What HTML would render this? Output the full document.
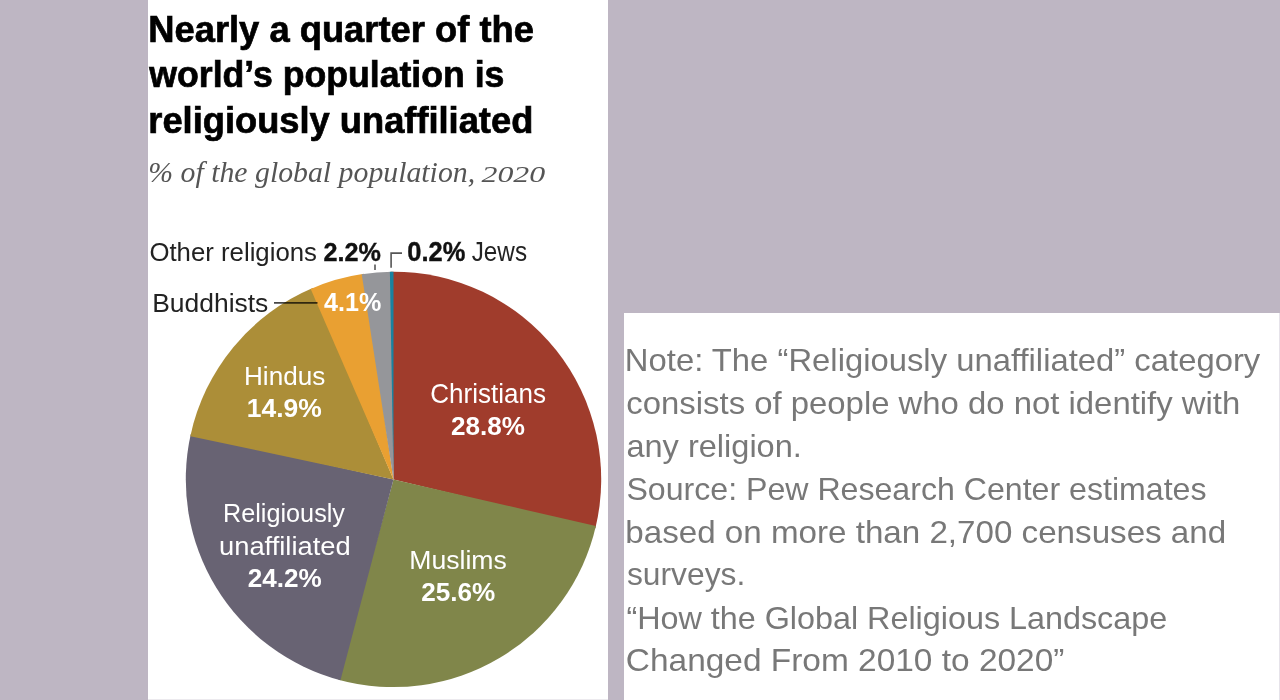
<!DOCTYPE html>
<html><head><meta charset="utf-8"><style>
html,body{margin:0;padding:0;background:#BEB6C3;width:1280px;height:700px;overflow:hidden}
svg{display:block;filter:blur(0.35px)}
text{white-space:pre}
</style></head><body>
<svg width="1280" height="700" viewBox="0 0 1280 700">
<rect x="0" y="0" width="1280" height="700" fill="#BEB6C3"/>
<rect x="148" y="0" width="460" height="700" fill="#FFFFFF"/>
<rect x="624" y="313" width="656" height="387" fill="#FFFFFF"/>
<rect x="1279" y="313" width="1" height="387" fill="#E6E3EA"/>
<rect x="148" y="699" width="460" height="1" fill="#ECEAEE"/>
<path d="M393.5,479.4 L391.33,271.71 A207.7,207.7 0 0 1 595.38,528.24 Z" fill="#A03C2C"/>
<path d="M393.5,479.4 L595.88,526.12 A207.7,207.7 0 0 1 338.34,679.64 Z" fill="#80864A"/>
<path d="M393.5,479.4 L340.44,680.21 A207.7,207.7 0 0 1 190.80,434.09 Z" fill="#686373"/>
<path d="M393.5,479.4 L190.34,436.22 A207.7,207.7 0 0 1 312.68,288.07 Z" fill="#AC8E38"/>
<path d="M393.5,479.4 L310.68,288.93 A207.7,207.7 0 0 1 363.88,273.82 Z" fill="#E9A032"/>
<path d="M393.5,479.4 L361.72,274.14 A207.7,207.7 0 0 1 392.05,271.71 Z" fill="#95969A"/>
<path d="M393.5,479.4 L389.88,271.73 A207.7,207.7 0 0 1 393.50,271.70 Z" fill="#1982A0"/>
<line x1="274" y1="302.8" x2="317.5" y2="302.8" stroke="#000" stroke-opacity="0.72" stroke-width="1.7"/>
<line x1="375" y1="264.5" x2="375" y2="270" stroke="#555" stroke-width="1.6"/>
<polyline points="391.1,267.7 391.1,253.1 402,253.1" fill="none" stroke="#555" stroke-width="1.6"/>
<text transform="translate(148.23,41.60) scale(0.9869,1)" font-family="Liberation Sans" font-size="36.84" font-weight="bold" font-style="normal" fill="#000000" stroke="#000000" stroke-width="0.7">Nearly a quarter of the</text>
<text transform="translate(149.26,86.60) scale(0.9742,1)" font-family="Liberation Sans" font-size="36.60" font-weight="bold" font-style="normal" fill="#000000" stroke="#000000" stroke-width="0.7">world’s population is</text>
<text transform="translate(148.33,132.50) scale(0.9978,1)" font-family="Liberation Sans" font-size="36.36" font-weight="bold" font-style="normal" fill="#000000" stroke="#000000" stroke-width="0.7">religiously unaffiliated</text>
<text transform="translate(148.30,182.00) scale(1.0322,1)" font-family="Liberation Serif" font-size="28.87" font-weight="normal" font-style="italic" fill="#555555">% of the global population,</text>
<text transform="translate(481.50,182.10) scale(1.3806,1)" font-family="Liberation Serif" font-size="23.07" font-weight="normal" font-style="italic" fill="#555555">2020</text>
<text transform="translate(149.39,260.60) scale(1.0125,1)" font-family="Liberation Sans" font-size="25.46" font-weight="normal" font-style="normal" fill="#222222">Other religions</text>
<text transform="translate(471.72,260.70) scale(0.9036,1)" font-family="Liberation Sans" font-size="26.88" font-weight="normal" font-style="normal" fill="#222222">Jews</text>
<text transform="translate(152.23,311.70) scale(0.9993,1)" font-family="Liberation Sans" font-size="26.45" font-weight="normal" font-style="normal" fill="#222222">Buddhists</text>
<text transform="translate(323.61,260.60) scale(0.9459,1)" font-family="Liberation Sans" font-size="26.60" font-weight="bold" font-style="normal" fill="#111111" stroke="#111111" stroke-width="0.4">2.2%</text>
<text transform="translate(407.30,260.70) scale(0.9476,1)" font-family="Liberation Sans" font-size="26.88" font-weight="bold" font-style="normal" fill="#111111" stroke="#111111" stroke-width="0.4">0.2%</text>
<text transform="translate(324.00,311.40) scale(0.9599,1)" font-family="Liberation Sans" font-size="26.17" font-weight="bold" font-style="normal" fill="#FFFFFF">4.1%</text>
<text transform="translate(243.96,385.00) scale(1.0098,1)" font-family="Liberation Sans" font-size="25.88" font-weight="normal" font-style="normal" fill="#FFFFFF">Hindus</text>
<text transform="translate(246.85,417.00) scale(1.0057,1)" font-family="Liberation Sans" font-size="26.31" font-weight="bold" font-style="normal" fill="#FFFFFF">14.9%</text>
<text transform="translate(430.28,402.80) scale(0.9592,1)" font-family="Liberation Sans" font-size="27.16" font-weight="normal" font-style="normal" fill="#FFFFFF">Christians</text>
<text transform="translate(450.88,434.60) scale(0.9864,1)" font-family="Liberation Sans" font-size="26.45" font-weight="bold" font-style="normal" fill="#FFFFFF">28.8%</text>
<text transform="translate(223.03,522.40) scale(0.9745,1)" font-family="Liberation Sans" font-size="25.88" font-weight="normal" font-style="normal" fill="#FFFFFF">Religiously</text>
<text transform="translate(218.99,554.70) scale(1.0570,1)" font-family="Liberation Sans" font-size="25.88" font-weight="normal" font-style="normal" fill="#FFFFFF">unaffiliated</text>
<text transform="translate(247.78,587.10) scale(0.9917,1)" font-family="Liberation Sans" font-size="26.31" font-weight="bold" font-style="normal" fill="#FFFFFF">24.2%</text>
<text transform="translate(409.22,569.10) scale(1.0075,1)" font-family="Liberation Sans" font-size="26.45" font-weight="normal" font-style="normal" fill="#FFFFFF">Muslims</text>
<text transform="translate(421.18,600.60) scale(0.9985,1)" font-family="Liberation Sans" font-size="26.17" font-weight="bold" font-style="normal" fill="#FFFFFF">25.6%</text>
<text transform="translate(624.84,371.20) scale(1.0350,1)" font-family="Liberation Sans" font-size="31.72" font-weight="normal" font-style="normal" fill="#787878">Note: The “Religiously unaffiliated” category</text>
<text transform="translate(626.37,414.00) scale(1.0363,1)" font-family="Liberation Sans" font-size="31.72" font-weight="normal" font-style="normal" fill="#787878">consists of people who do not identify with</text>
<text transform="translate(626.38,457.00) scale(1.0266,1)" font-family="Liberation Sans" font-size="31.72" font-weight="normal" font-style="normal" fill="#787878">any religion.</text>
<text transform="translate(626.40,499.70) scale(1.0131,1)" font-family="Liberation Sans" font-size="31.72" font-weight="normal" font-style="normal" fill="#787878">Source: Pew Research Center estimates</text>
<text transform="translate(625.33,543.00) scale(1.0456,1)" font-family="Liberation Sans" font-size="31.72" font-weight="normal" font-style="normal" fill="#787878">based on more than 2,700 censuses and</text>
<text transform="translate(626.90,584.70) scale(1.0024,1)" font-family="Liberation Sans" font-size="31.72" font-weight="normal" font-style="normal" fill="#787878">surveys.</text>
<text transform="translate(626.39,628.60) scale(1.0193,1)" font-family="Liberation Sans" font-size="31.72" font-weight="normal" font-style="normal" fill="#787878">“How the Global Religious Landscape</text>
<text transform="translate(625.83,670.80) scale(1.0545,1)" font-family="Liberation Sans" font-size="31.72" font-weight="normal" font-style="normal" fill="#787878">Changed From 2010 to 2020”</text>
</svg>
</body></html>
